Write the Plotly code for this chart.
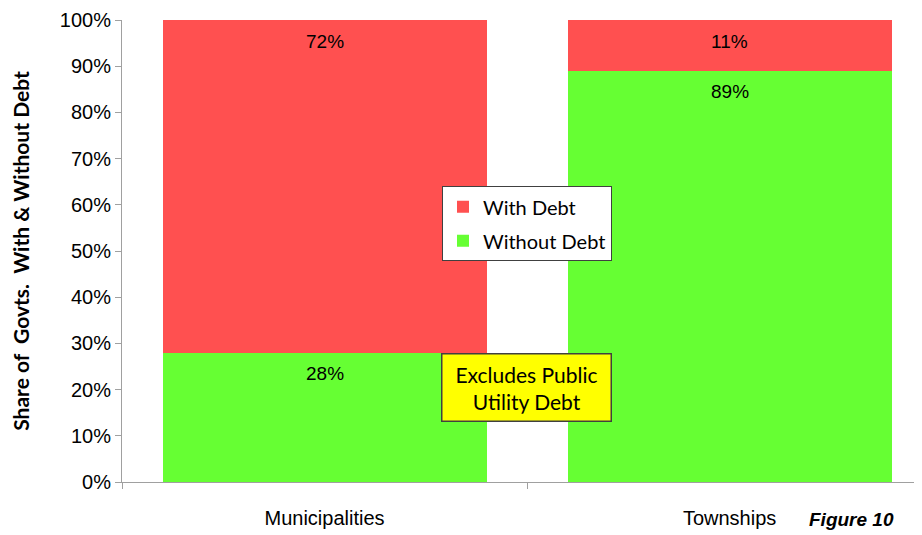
import plotly.graph_objects as go

categories = ["Municipalities", "Townships"]
without_debt = [28, 89]
with_debt = [72, 11]
y_ticks = [0, 10, 20, 30, 40, 50, 60, 70, 80, 90, 100]
y_tick_labels = [f"{v}%" for v in y_ticks]

narrow = "Liberation Sans Narrow, Arial Narrow, Liberation Sans, Arial"
cal = "Lato, Open Sans, sans-serif"

fig = go.Figure()
fig.add_trace(go.Bar(
    name="Without Debt", x=categories, y=without_debt,
    legendgroup="g2", legendrank=2,
    marker=dict(color="#66FF33", line=dict(width=0)),
    width=0.8,
))
fig.add_trace(go.Bar(
    name="With Debt", x=categories, y=with_debt,
    legendgroup="g1", legendrank=1,
    marker=dict(color="#FF5050", line=dict(width=0)),
    width=0.8,
))

# data labels near the top of each segment
label_annots = []
for i, cat in enumerate(categories):
    tops = [without_debt[i], without_debt[i] + with_debt[i]]
    vals = [without_debt[i], with_debt[i]]
    for top, v in zip(tops, vals):
        label_annots.append(dict(
            x=cat, y=top, xref="x", yref="y", text=f"{v}%",
            showarrow=False, yanchor="middle", yshift=-21,
            font=dict(family=narrow, size=19, color="black"),
        ))

fig.update_layout(
    barmode="stack",
    width=914, height=527,
    margin=dict(l=114, r=0, t=12, b=53, autoexpand=False),
    plot_bgcolor="white", paper_bgcolor="white",
    showlegend=True,
    legend=dict(
        x=0.4, y=0.64, xanchor="left", yanchor="top",
        traceorder="grouped", tracegroupgap=5,
        bgcolor="white", bordercolor="#404040", borderwidth=1,
        font=dict(family=cal, size=20, color="black"),
        itemwidth=30,
    ),
    xaxis=dict(
        range=[-0.5, 1.475], automargin=False,
        tickson="boundaries", ticks="outside", ticklen=6, tickcolor="#A0A0A0",
        showline=True, linecolor="#A0A0A0", linewidth=1,
        showgrid=False, ticklabelstandoff=18,
        tickfont=dict(family=narrow, size=20, color="black"),
    ),
    yaxis=dict(
        range=[0, 100], automargin=False,
        tickvals=y_ticks, ticktext=y_tick_labels,
        ticklabeloverflow="allow",
        ticks="outside", ticklen=6, tickcolor="#A0A0A0",
        showline=True, linecolor="#A0A0A0", linewidth=1,
        showgrid=False, zeroline=False,
        tickfont=dict(family="Liberation Sans, Arial", size=20, color="black"),
        title=dict(text="<b>Share of  Govts.  With & Without Debt</b>",
                   font=dict(family=cal, size=21, color="black"), standoff=38),
    ),
    annotations=label_annots + [
        dict(
            text="Excludes Public<br>Utility Debt",
            xref="paper", yref="paper", x=0.505, y=0.205,
            xanchor="center", yanchor="middle",
            showarrow=False, bgcolor="#FFFF00",
            bordercolor="#404040", borderwidth=1.5, borderpad=7,
            font=dict(family=cal, size=21, color="black"),
            width=154,
        ),
        dict(
            text="<b><i>Figure 10</i></b>",
            xref="paper", yref="paper", x=0.856, y=-0.108,
            xanchor="left", yanchor="bottom", showarrow=False,
            font=dict(family="Liberation Sans, Arial", size=19, color="black"),
        ),
    ],
)

fig.write_html("out.html")
